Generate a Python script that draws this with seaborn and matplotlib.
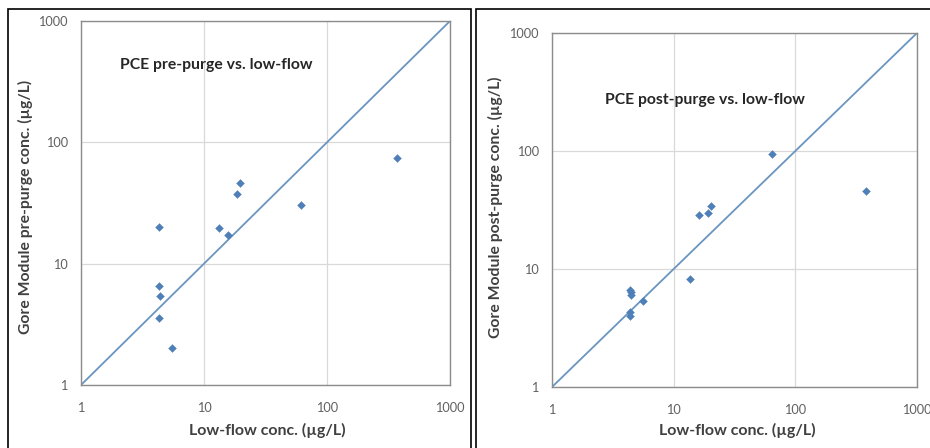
import numpy as np
import pandas as pd
import matplotlib
matplotlib.use("Agg")
import matplotlib.pyplot as plt
from matplotlib.patches import Rectangle
from matplotlib.ticker import LogLocator, FixedLocator, FixedFormatter, NullFormatter
import seaborn as sns

sns.set_theme(style="white")
plt.rcParams["font.family"] = ["Lato", "DejaVu Sans"]

# pre-purge vs low-flow
pre_lowflow = [373, 19.6, 18.4, 62, 4.33, 13.3, 15.8, 4.33, 4.42, 4.33, 5.5]
pre_gore = [73.6, 46, 37.2, 30.7, 19.9, 19.6, 17.2, 6.5, 5.4, 3.6, 2.0]

# post-purge vs low-flow
post_lowflow = [64.7, 383, 20.4, 19.0, 16.2, 13.7, 4.4, 4.45, 4.5, 5.6, 4.4, 4.4]
post_gore = [95, 45.9, 34.4, 29.6, 28.9, 8.2, 6.7, 6.4, 6.0, 5.4, 4.3, 4.0]

identity_line = [1, 1000]
tick_values = [1, 10, 100, 1000]
tick_labels = ["1", "10", "100", "1000"]

panels = [
    ("PCE pre-purge vs. low-flow", "Gore Module pre-purge conc. (µg/L)",
     pre_lowflow, pre_gore),
    ("PCE post-purge vs. low-flow", "Gore Module post-purge conc. (µg/L)",
     post_lowflow, post_gore),
]

point_color = "#4f7fb8"
line_color = "#6a95c0"
text_color = "#404040"

fig = plt.figure(figsize=(9.3, 4.48), dpi=100)

ax_rects = [
    [81 / 930, 63 / 448, 369 / 930, 364 / 448],
    [552 / 930, 61 / 448, 365 / 930, 354 / 448],
]
title_pos = [(120, 65), (605, 100)]
ylabel_x = [25, 495]
frames = [(8, 9, 463), (476, 9, 460)]

for i, (title, ylab, xs, ys) in enumerate(panels):
    ax = fig.add_axes(ax_rects[i])
    df = pd.DataFrame({"low": xs, "gore": ys})

    ax.plot(identity_line, identity_line, color=line_color, lw=1.3, zorder=2)
    sns.scatterplot(data=df, x="low", y="gore", marker="D", s=16,
                    color=point_color, edgecolor=point_color, linewidth=0.3,
                    ax=ax, zorder=3)

    ax.set_xscale("log")
    ax.set_yscale("log")
    ax.set_xlim(1, 1000)
    ax.set_ylim(1, 1000)

    for axis in (ax.xaxis, ax.yaxis):
        axis.set_major_locator(FixedLocator(tick_values))
        axis.set_major_formatter(FixedFormatter(tick_labels))
        axis.set_minor_locator(LogLocator(base=10, subs=np.arange(2, 10)))
        axis.set_minor_formatter(NullFormatter())

    ax.tick_params(which="major", direction="out", length=3.5, width=0.8,
                   color="#8c8c8c", labelsize=9.2, labelcolor="#606060")
    ax.tick_params(axis="x", which="major", pad=9)
    ax.tick_params(axis="y", which="major", pad=6)
    ax.tick_params(which="minor", direction="in", length=3, width=0.6,
                   color="#a0a0a0")

    ax.grid(which="major", color="#d9d9d9", lw=0.9)
    ax.grid(which="minor", visible=False)
    for sp in ax.spines.values():
        sp.set_color("#8c8c8c")
        sp.set_linewidth(1.0)

    ax.set_xlabel("")
    ax.set_ylabel("")
    fig.text(267 / 930 if i == 0 else 737 / 930, 1 - 430 / 448,
             "Low-flow conc. (µg/L)", ha="center", va="center",
             fontsize=11.5, fontweight="bold", color=text_color)
    fig.text(ylabel_x[i] / 930, 1 - 207 / 448, ylab, rotation=90,
             ha="center", va="center", fontsize=11.3, fontweight="bold",
             color=text_color)

    tx, ty = title_pos[i]
    fig.text(tx / 930, 1 - ty / 448, title, ha="left", va="center",
             fontsize=11.3, fontweight="bold", color="#262626")

    fx, fy, fw = frames[i]
    fig.patches.append(Rectangle((fx / 930, -0.05), fw / 930, 1 - fy / 448 + 0.05,
                                 transform=fig.transFigure, fill=False,
                                 edgecolor="black", lw=1.2))

fig.savefig("out.png", dpi=100)
